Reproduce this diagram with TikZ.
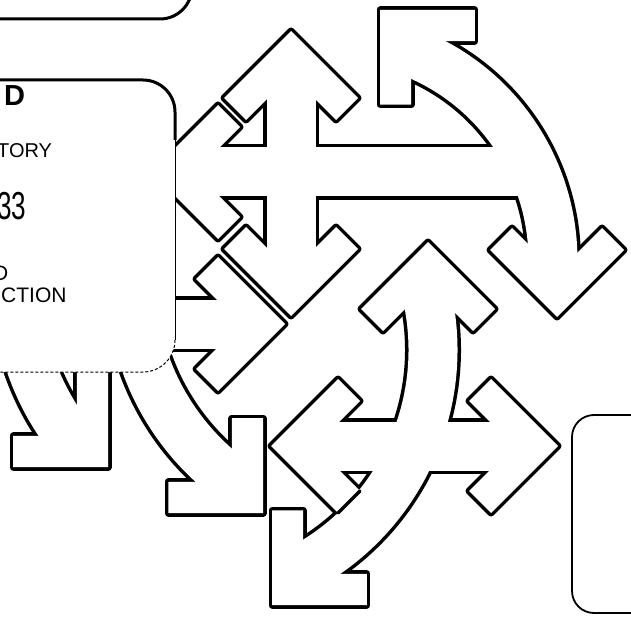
\documentclass[tikz,border=0pt]{standalone}
\usepackage{fontspec}
\setmainfont{Liberation Sans}

% chevron head, apex at the origin, pointing along +x
\newcommand{\chev}[4]{\path[#1,shift={(#2,#3)},rotate=#4] (0,0) -- (-67,67) -- (-89,45) -- (-44,0) -- (-89,-45) -- (-67,-67) -- cycle;}

% cross and big arc (top)
\newcommand{\crossarc}[2]{%
  \chev{#1}{291}{31}{90}
  \chev{#1}{151}{172}{180}
  \chev{#1}{291}{316}{270}
  \chev{#1}{380}{10}{135}
  \chev{#1}{557}{317}{270}
  \path[#2] (291,71) -- (291,276);
  \path[#2] (191,172) -- (530,172);
  \path[#2] (404.4,49.8) arc[start angle=-70.5, end angle=4.4, radius=223];
}

% arrows leaving the left card
\newcommand{\leftarrows}[2]{%
  \chev{#1}{285}{324}{0}
  \chev{#1}{108}{467}{315}
  \chev{#1}{263}{513}{315}
  \path[#2] (100,324) -- (245,324);
  \path[#2] (25.5,348.4) arc[start angle=165, end angle=140.3, radius=249];
  \path[#2] (139.5,344.4) arc[start angle=165, end angle=125.4, radius=249];
}

% lower cross with its arc
\newcommand{\middlecross}[2]{%
  \chev{#1}{428}{242}{90}
  \chev{#1}{271}{446}{180}
  \chev{#1}{558}{446}{0}
  \chev{#1}{272}{605}{225}
  \path[#2] (311,446) -- (518,446);
  \path[#2] (423.5,282) arc[start angle=-15.9, end angle=63, radius=248];
}

\begin{document}
\begin{tikzpicture}[
  x=1pt, y=-1pt,
  ol/.style={draw=black,line width=7pt,line join=round},
  wf/.style={fill=white},
  sol/.style={draw=black,line width=56pt},
  swf/.style={draw=white,line width=49pt},
  edge/.style={draw=black,line width=3.5pt,line cap=round},
  card/.style={draw=black,line width=3pt,line join=round},
  thincard/.style={draw=black,line width=1pt},
  lbl/.style={anchor=base west,inner sep=0pt,font=\fontsize{21}{21}\selectfont}
]
\useasboundingbox (0,0) rectangle (631,617);
\clip (0,0) rectangle (631,617);

\crossarc{ol}{sol}
\crossarc{wf}{swf}
\leftarrows{ol}{sol}
\leftarrows{wf}{swf}
\middlecross{ol}{sol}
\middlecross{wf}{swf}
\draw[edge] (338,513) -- (360,491);

% top card
\draw[card] (-5,19) -- (160,19) arc[start angle=90, end angle=0, radius=32] -- (192,-20);

% left card
\fill[white,rounded corners=32] (-30,80) rectangle (175,372);
\draw[card] (-5,80) -- (143,80) arc[start angle=-90, end angle=0, radius=32] -- (175,140);
\draw[thincard] (175,140) -- (175,340);
\draw[thincard,densely dashed] (175,340) arc[start angle=0, end angle=90, radius=32] -- (-5,372);

\node[lbl,font=\fontsize{29}{29}\selectfont\bfseries] (lbD) at (4,106) {D};
\node[lbl,font=\fontsize{20}{20}\selectfont] (lbTory) at (-3,158) {TORY};
\node[lbl,font=\fontsize{39}{39}\selectfont] (lbNum) at (-3,220) {\scalebox{0.67}[1]{33}};
\node[lbl] (lbD2) at (-7,280) {D};
\node[lbl] (lbCtion) at (1,302) {CTION};

% right card
\draw[draw=black,line width=1.8pt] (660,415) -- (594,415) arc[start angle=-90, end angle=-180, radius=22]
  -- (572,591) arc[start angle=180, end angle=90, radius=22] -- (660,613);
\end{tikzpicture}
\end{document}
